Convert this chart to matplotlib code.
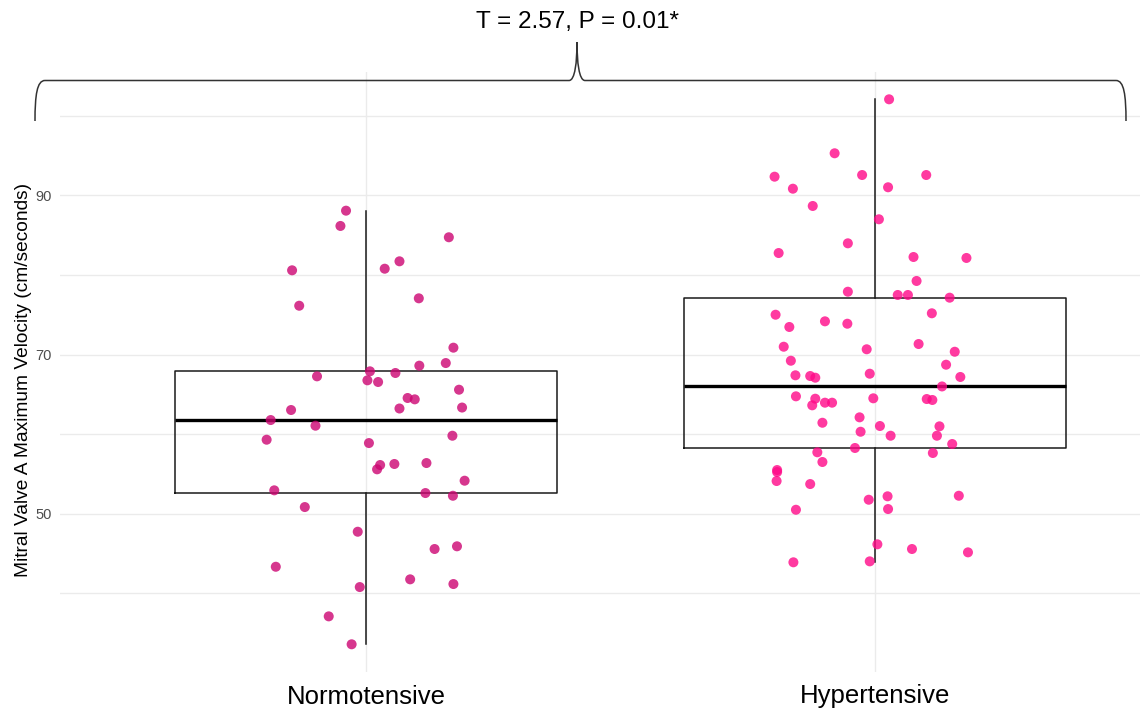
import numpy as np
import matplotlib
matplotlib.use("Agg")
import matplotlib.pyplot as plt
from matplotlib.path import Path
from matplotlib.patches import PathPatch

plt.rcParams['font.family'] = ['Liberation Sans', 'DejaVu Sans']

groups = ["Normotensive", "Hypertensive"]
y_label = "Mitral Valve A Maximum Velocity (cm/seconds)"
test_label = "T = 2.57, P = 0.01*"

# mitral A velocity per patient, with the horizontal jitter used for the dots
normo_vals = [88.08, 86.16, 84.74, 80.59, 81.72, 80.79, 76.14, 77.07, 70.87, 68.61,
              68.94, 67.27, 67.90, 66.77, 66.56, 67.69, 65.59, 64.55, 64.38, 63.04,
              63.23, 63.35, 61.78, 61.07, 59.31, 59.81, 58.89, 56.13, 55.59, 56.26,
              56.38, 54.16, 52.95, 52.61, 52.27, 50.85, 47.75, 45.58, 45.92, 43.35,
              41.77, 40.80, 41.18, 37.12, 33.61]
normo_jitter = [-0.039, -0.050, 0.163, -0.145, 0.066, 0.037, -0.131, 0.104, 0.172, 0.105,
                0.157, -0.096, 0.008, 0.003, 0.024, 0.058, 0.183, 0.082, 0.096, -0.147,
                0.066, 0.189, -0.187, -0.099, -0.195, 0.170, 0.006, 0.028, 0.022, 0.056,
                0.119, 0.194, -0.180, 0.117, 0.171, -0.120, -0.016, 0.135, 0.179, -0.177,
                0.087, -0.012, 0.172, -0.073, -0.028]

hyper_vals = [102.07, 95.29, 92.35, 92.56, 92.56, 90.84, 91.02, 88.67, 87.00, 82.76,
              83.98, 82.26, 82.14, 79.25, 77.90, 77.49, 77.49, 77.15, 75.01, 75.19,
              74.18, 73.88, 73.47, 70.99, 71.33, 70.67, 70.36, 69.23, 68.73, 67.40,
              67.31, 67.10, 67.60, 67.19, 66.00, 64.76, 64.46, 63.63, 63.96, 63.96,
              64.51, 64.42, 64.30, 62.12, 61.44, 61.03, 60.31, 59.81, 60.99, 59.81,
              58.77, 58.27, 57.73, 56.51, 57.64, 55.50, 55.25, 54.12, 53.74, 51.77,
              52.20, 50.60, 52.27, 50.51, 46.17, 45.58, 45.16, 43.91, 44.03]
hyper_jitter = [0.028, -0.079, -0.197, -0.025, 0.101, -0.161, 0.026, -0.122, 0.008, -0.189,
                -0.053, 0.076, 0.180, 0.082, -0.053, 0.045, 0.065, 0.147, -0.195, 0.112,
                -0.098, -0.054, -0.168, -0.179, 0.086, -0.016, 0.157, -0.165, 0.140, -0.156,
                -0.127, -0.117, -0.010, 0.168, 0.132, -0.155, -0.117, -0.123, -0.098, -0.084,
                -0.003, 0.102, 0.113, -0.030, -0.103, 0.010, -0.028, 0.031, 0.127, 0.122,
                0.152, -0.039, -0.113, -0.103, 0.114, -0.192, -0.192, -0.193, -0.127, -0.012,
                0.025, 0.026, 0.165, -0.155, 0.005, 0.073, 0.183, -0.160, -0.010]

colors = ["#CC0572", "#FF0988"]

W, H = 1140, 709
fig = plt.figure(figsize=(W / 100, H / 100), dpi=100)
ax = fig.add_axes([60 / W, 1 - 672 / H, 1 - 60 / W, 600 / H])

data = [normo_vals, hyper_vals]
jit = [normo_jitter, hyper_jitter]
pos = [1, 2]

ax.boxplot(data, positions=pos, widths=0.75, whis=1.5, showfliers=False,
           showcaps=False, patch_artist=False,
           boxprops=dict(color="#1a1a1a", linewidth=1.1),
           whiskerprops=dict(color="#1a1a1a", linewidth=1.1),
           medianprops=dict(color="black", linewidth=2.4),
           zorder=2)

for p, vals, jj, c in zip(pos, data, jit, colors):
    ax.scatter(p + np.array(jj), vals, s=52, color=c, alpha=0.8,
               edgecolors="none", zorder=3)

ax.set_xlim(0.399, 2.521)
ax.set_ylim(30.13, 105.5)
ax.set_xticks(pos)
ax.set_xticklabels(groups, fontsize=18.5, color="black")
ax.set_yticks([50, 70, 90])
ax.set_yticks([40, 60, 80, 100], minor=True)
ax.tick_params(axis="y", which="both", length=0, labelsize=10.5, labelcolor="#4d4d4d", pad=6)
ax.tick_params(axis="x", length=0, pad=9)
ax.set_ylabel(y_label, fontsize=13.8, color="black")
ax.yaxis.set_label_coords(-28 / (W - 60), 0.487)

ax.grid(True, which="major", color="#ebebeb", linewidth=1.0)
ax.grid(True, which="minor", axis="y", color="#ebebeb", linewidth=1.0)
ax.set_axisbelow(True)
for s in ax.spines.values():
    s.set_visible(False)

# curly brace over both groups, laid out in pixel space
def px(x, y):
    return (x / W, 1 - y / H)

xl, xr, xm = 35, 1126, 577
yt, yb, ytip = 80.5, 121, 42
verts = [px(xl, yb), px(xl, 95), px(xl + 2, yt), px(xl + 10, yt),
         px(xm - 8, yt),
         px(xm - 2, yt), px(xm, 62), px(xm, ytip),
         px(xm, 62), px(xm + 2, yt), px(xm + 8, yt),
         px(xr - 10, yt),
         px(xr - 2, yt), px(xr, 95), px(xr, yb)]
codes = [Path.MOVETO, Path.CURVE4, Path.CURVE4, Path.CURVE4,
         Path.LINETO,
         Path.CURVE4, Path.CURVE4, Path.CURVE4,
         Path.CURVE4, Path.CURVE4, Path.CURVE4,
         Path.LINETO,
         Path.CURVE4, Path.CURVE4, Path.CURVE4]
brace = PathPatch(Path(verts, codes), transform=fig.transFigure, facecolor="none",
                  edgecolor="#333333", linewidth=1.1)
fig.patches.append(brace)

fig.text(xm / W, 1 - 22 / H, test_label, ha="center", va="center", fontsize=17.5)

fig.savefig("out.png", dpi=100, facecolor="white")
